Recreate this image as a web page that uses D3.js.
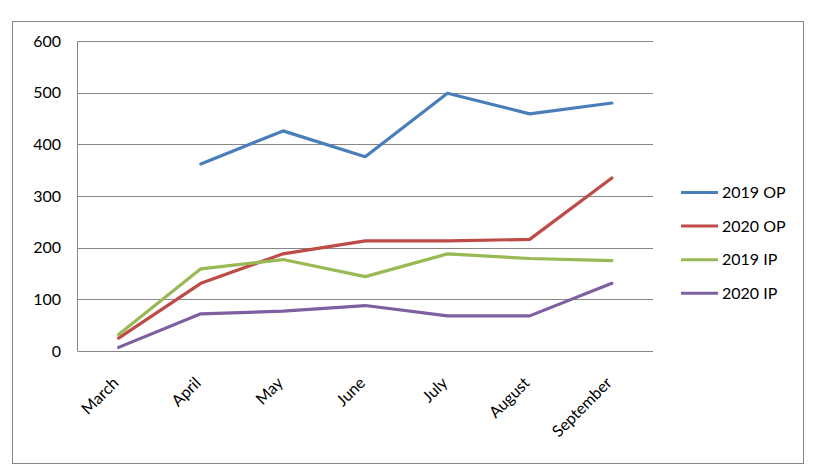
<!DOCTYPE html>
<html lang="en">
<head>
<script src="https://d3js.org/d3.v7.min.js"></script>
<style>
  body { margin: 0; background: #fff; }
  text { font-family: Lato, "Open Sans", sans-serif; fill: #000; }
</style>
</head>
<body>
<script>
var months = ["March", "April", "May", "June", "July", "August", "September"];
var op2019 = [null, 362, 426, 376, 499, 459, 480];
var op2020 = [25, 131, 188, 213, 213, 216, 335];
var ip2019 = [32, 159, 177, 144, 188, 179, 175];
var ip2020 = [7, 72, 77, 88, 68, 68, 131];
var yTicks = [0, 100, 200, 300, 400, 500, 600];

var series = [
  { name: "2019 OP", values: op2019, color: "#4A7EBB" },
  { name: "2020 OP", values: op2020, color: "#BE4B48" },
  { name: "2019 IP", values: ip2019, color: "#98B954" },
  { name: "2020 IP", values: ip2020, color: "#7D60A0" }
];

var width = 825, height = 475;
var margin = { left: 77.5, right: 172, top: 41, bottom: 124 };

var svg = d3.select("body").append("svg")
  .attr("width", width)
  .attr("height", height);

// chart border
svg.append("rect")
  .attr("x", 12.5).attr("y", 21.5)
  .attr("width", 791).attr("height", 442)
  .attr("fill", "none")
  .attr("stroke", "#868686")
  .attr("stroke-width", 1);

var x = d3.scaleBand()
  .domain(months)
  .range([margin.left, width - margin.right]);

var y = d3.scaleLinear()
  .domain([0, 600])
  .range([height - margin.bottom, margin.top]);

// gridlines
svg.append("g")
  .selectAll("line")
  .data(yTicks)
  .enter().append("line")
  .attr("x1", margin.left)
  .attr("x2", width - margin.right)
  .attr("y1", function(d) { return Math.round(y(d)) + 0.5; })
  .attr("y2", function(d) { return Math.round(y(d)) + 0.5; })
  .attr("stroke", "#868686");

// left axis line
svg.append("line")
  .attr("x1", margin.left).attr("x2", margin.left)
  .attr("y1", y(600)).attr("y2", y(0))
  .attr("stroke", "#868686");

// y labels
svg.append("g")
  .selectAll("text")
  .data(yTicks)
  .enter().append("text")
  .attr("x", 61)
  .attr("y", function(d) { return y(d); })
  .attr("dy", "0.35em")
  .attr("text-anchor", "end")
  .style("font-size", "16px")
  .text(function(d) { return d; });

// x labels
svg.append("g")
  .selectAll("text")
  .data(months)
  .enter().append("text")
  .attr("text-anchor", "end")
  .attr("transform", function(d) {
    var cx = x(d) + x.bandwidth() / 2 + 1;
    return "translate(" + cx + ",384) rotate(-45)";
  })
  .style("font-size", "16px")
  .text(function(d) { return d; });

var line = d3.line()
  .defined(function(d) { return d != null; })
  .x(function(d, i) { return x(months[i]) + x.bandwidth() / 2; })
  .y(function(d) { return y(d); });

svg.append("g")
  .selectAll("path")
  .data(series)
  .enter().append("path")
  .attr("d", function(s) { return line(s.values); })
  .attr("fill", "none")
  .attr("stroke", function(s) { return s.color; })
  .attr("stroke-width", 3.2)
  .attr("stroke-linejoin", "round")
  .attr("stroke-linecap", "round");

// legend
var legend = svg.append("g")
  .selectAll("g")
  .data(series)
  .enter().append("g")
  .attr("transform", function(d, i) { return "translate(681," + (192.5 + i * 33.6) + ")"; });

legend.append("line")
  .attr("x1", 0).attr("x2", 37)
  .attr("stroke", function(d) { return d.color; })
  .attr("stroke-width", 3);

legend.append("text")
  .attr("x", 41)
  .attr("dy", "0.35em")
  .style("font-size", "16px")
  .text(function(d) { return d.name; });
</script>
</body>
</html>
